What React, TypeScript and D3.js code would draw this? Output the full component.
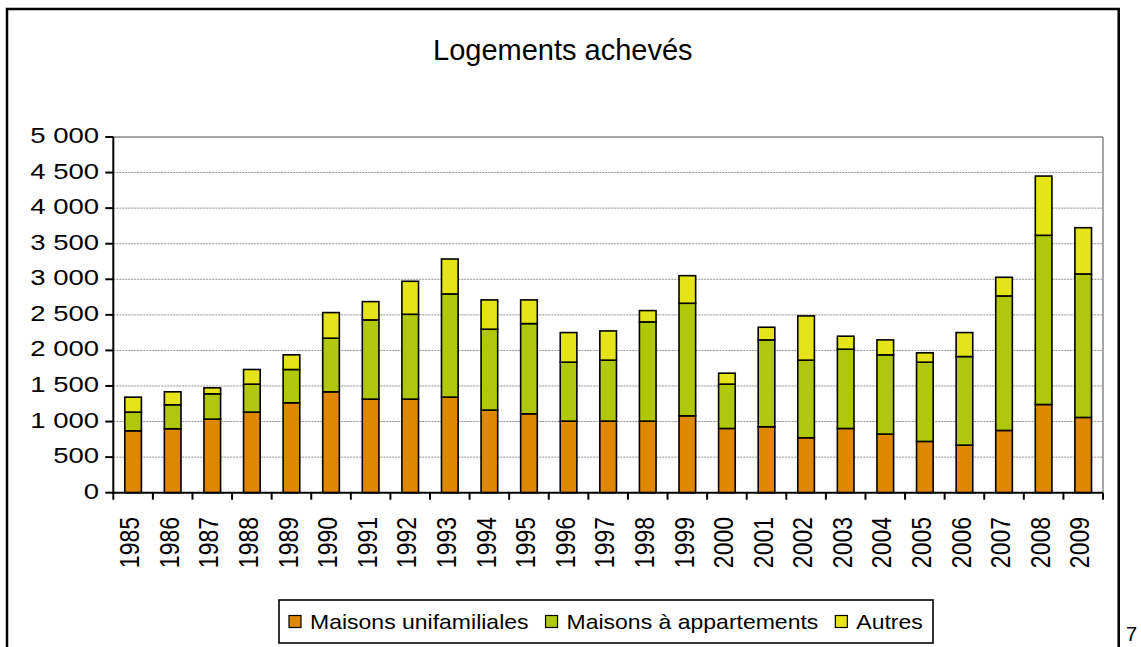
import React, { useEffect, useRef } from "react";
import * as d3 from "d3";

const years = ["1985","1986","1987","1988","1989","1990","1991","1992","1993","1994","1995","1996","1997","1998","1999","2000","2001","2002","2003","2004","2005","2006","2007","2008","2009"];
const maisonsUnifamiliales = [870, 899, 1034, 1133, 1264, 1418, 1315, 1315, 1343, 1161, 1109, 1006, 1006, 1006, 1081, 903, 927, 772, 903, 824, 721, 669, 875, 1240, 1058];
const maisonsAppartements = [263, 337, 356, 393, 468, 754, 1114, 1193, 1451, 1137, 1268, 829, 857, 1395, 1582, 623, 1221, 1091, 1114, 1114, 1114, 1245, 1891, 2378, 2017];
const autres = [210, 182, 84, 206, 206, 360, 257, 464, 491, 412, 333, 416, 411, 159, 388, 154, 178, 622, 183, 210, 131, 337, 262, 833, 650];
const seriesNames = ["Maisons unifamiliales", "Maisons à appartements", "Autres"];
const seriesColors = ["#E08700", "#B0C80C", "#E4E418"];
const yTickValues = [0, 500, 1000, 1500, 2000, 2500, 3000, 3500, 4000, 4500, 5000];
const chartTitle = "Logements achevés";
const pageNumber = "7";

const FONT = "'Liberation Sans', Arial, Helvetica, sans-serif";

export default function App() {
  const ref = useRef<SVGSVGElement | null>(null);

  useEffect(() => {
    const svg = d3.select(ref.current!);
    svg.selectAll("*").remove();

    const left = 113.3, right = 1103, top = 137, bottom = 492.7;

    // outer frame
    svg.append("rect")
      .attr("x", 7).attr("y", 9).attr("width", 1111.7).attr("height", 700)
      .attr("fill", "white").attr("stroke", "#000").attr("stroke-width", 2.5);

    // title
    svg.append("text")
      .attr("x", 562.8).attr("y", 60)
      .attr("text-anchor", "middle")
      .attr("font-family", FONT).attr("font-size", 29)
      .text(chartTitle);

    const x = d3.scaleBand<string>().domain(years).range([left, right]).padding(0);
    const y = d3.scaleLinear().domain([0, 5000]).range([bottom, top]);
    const barW = x.bandwidth() * 0.42;

    const fr = d3.formatLocale({ decimal: ",", thousands: "\u00a0", grouping: [3], currency: ["", ""] });
    const fmt = fr.format(",d");

    // gridlines
    const g = svg.append("g");
    yTickValues.filter(v => v > 0 && v < 5000).forEach(v => {
      g.append("line")
        .attr("x1", left).attr("x2", right).attr("y1", y(v)).attr("y2", y(v))
        .attr("stroke", "#8f8f8f").attr("stroke-width", 1).attr("stroke-dasharray", "2,1");
    });
    g.append("line").attr("x1", left).attr("x2", right).attr("y1", y(5000)).attr("y2", y(5000))
      .attr("stroke", "#888").attr("stroke-width", 1.5);
    g.append("line").attr("x1", right).attr("x2", right).attr("y1", top).attr("y2", bottom)
      .attr("stroke", "#888").attr("stroke-width", 1.5);

    // stacked bars
    const rows = years.map((yr, i) => ({ year: yr, s0: maisonsUnifamiliales[i], s1: maisonsAppartements[i], s2: autres[i] }));
    const stack = d3.stack<any>().keys(["s0", "s1", "s2"]);
    const layers = stack(rows);
    layers.forEach((layer, li) => {
      svg.append("g").selectAll("rect").data(layer).enter().append("rect")
        .attr("x", (d: any) => x(d.data.year)! + x.bandwidth() / 2 - barW / 2)
        .attr("y", (d: any) => y(d[1]))
        .attr("width", barW)
        .attr("height", (d: any) => y(d[0]) - y(d[1]))
        .attr("fill", seriesColors[li])
        .attr("stroke", "#000").attr("stroke-width", 1.6);
    });

    // axes
    svg.append("line").attr("x1", left).attr("x2", left).attr("y1", top).attr("y2", bottom + 1)
      .attr("stroke", "#000").attr("stroke-width", 2);
    svg.append("line").attr("x1", left - 1).attr("x2", right).attr("y1", bottom).attr("y2", bottom)
      .attr("stroke", "#000").attr("stroke-width", 2);

    yTickValues.forEach(v => {
      svg.append("line").attr("x1", left - 8).attr("x2", left).attr("y1", y(v)).attr("y2", y(v))
        .attr("stroke", "#000").attr("stroke-width", 2);
      svg.append("text")
        .attr("transform", `translate(99,${y(v) + 6}) scale(1.25,1)`)
        .attr("text-anchor", "end")
        .attr("font-family", FONT).attr("font-size", 22)
        .text(fmt(v));
    });

    const boundaries = years.map(yr => x(yr)!).concat([right]);
    boundaries.forEach(bx => {
      svg.append("line").attr("x1", bx).attr("x2", bx).attr("y1", bottom).attr("y2", bottom + 7)
        .attr("stroke", "#000").attr("stroke-width", 2);
    });
    years.forEach(yr => {
      const cx = x(yr)! + x.bandwidth() / 2;
      svg.append("text")
        .attr("transform", `translate(${cx + 6.2},517) rotate(-90) scale(1,1.2)`)
        .attr("text-anchor", "end")
        .attr("font-family", FONT).attr("font-size", 23)
        .text(yr);
    });

    // legend
    const lg = svg.append("g");
    lg.append("rect").attr("x", 279).attr("y", 600).attr("width", 654).attr("height", 43)
      .attr("fill", "white").attr("stroke", "#000").attr("stroke-width", 1.6);
    const sx = 1.15;
    let cur = 289;
    seriesNames.forEach((name, i) => {
      lg.append("rect").attr("x", cur).attr("y", 615.5).attr("width", 12).attr("height", 12)
        .attr("fill", seriesColors[i]).attr("stroke", "#000").attr("stroke-width", 1.2);
      const t = lg.append("text")
        .attr("transform", `translate(${cur + 21},628.5) scale(${sx},1)`)
        .attr("font-family", FONT).attr("font-size", 20)
        .text(name);
      const w = (t.node() as SVGTextElement).getComputedTextLength() * sx;
      cur = cur + 21 + w + 17;
    });

    // page number
    svg.append("text").attr("x", 1126).attr("y", 641)
      .attr("font-family", FONT).attr("font-size", 20).text(pageNumber);
  }, []);

  return (
    <svg ref={ref} width={1141} height={647}
      style={{ position: "absolute", left: 0, top: 0, background: "white", display: "block" }} />
  );
}
